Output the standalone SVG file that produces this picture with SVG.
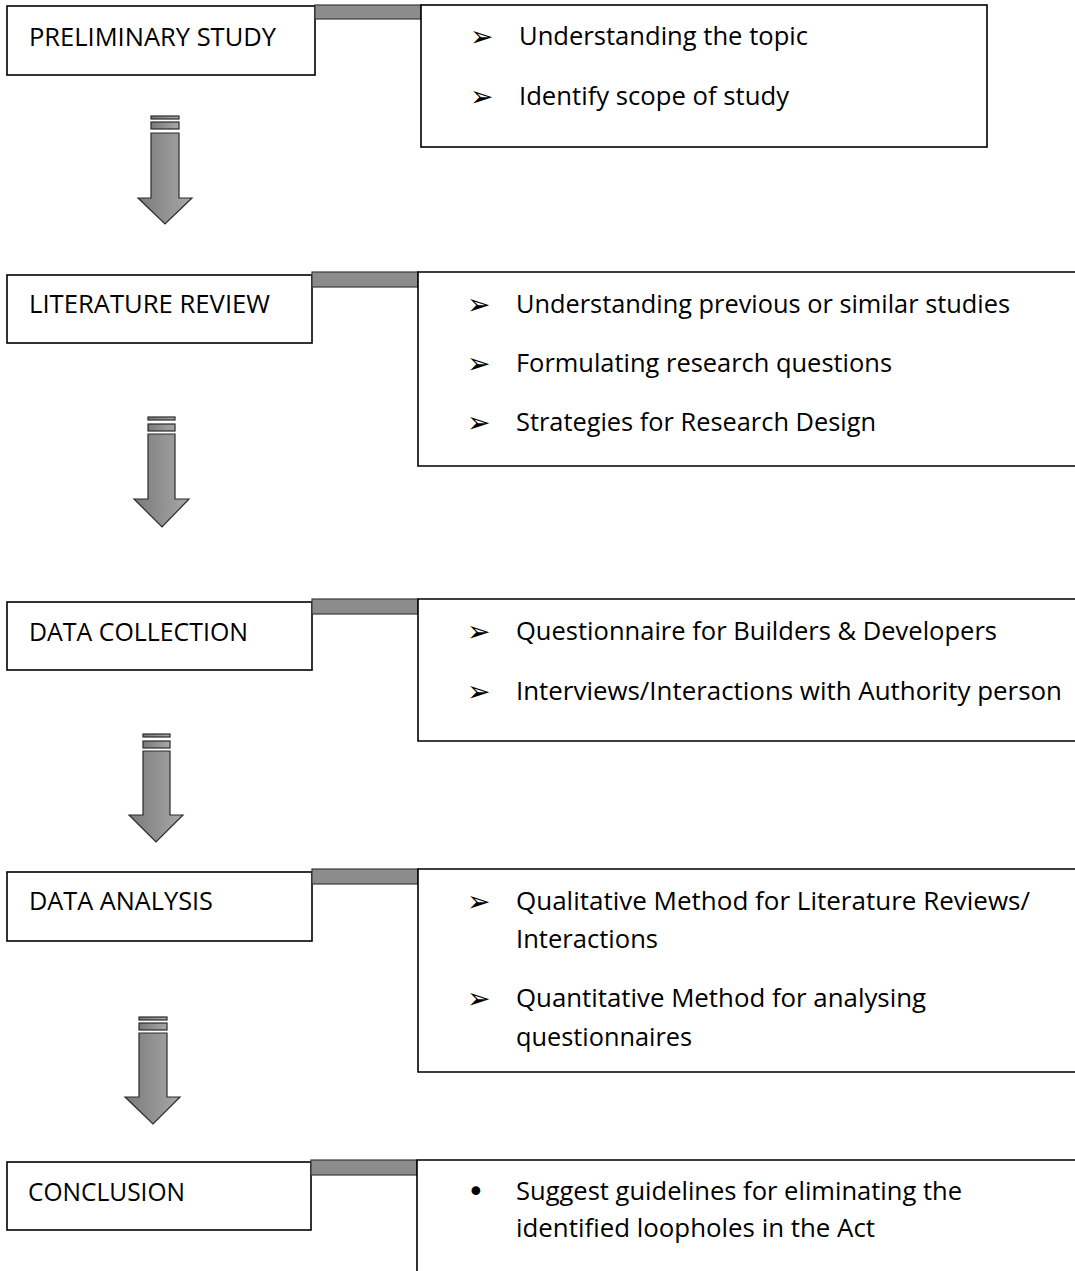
<svg xmlns="http://www.w3.org/2000/svg" width="1075" height="1271" viewBox="0 0 1075 1271">
<defs>
<linearGradient id="ag" x1="0" y1="0" x2="1" y2="0">
<stop offset="0" stop-color="#7a7a7a"/>
<stop offset="1" stop-color="#a8a8a8"/>
</linearGradient>
<style>
.box{fill:#fff;stroke:#000;stroke-width:1.6}
.bar{fill:#8c8c8c;stroke:#3a3a3a;stroke-width:1.2}
.ar{fill:url(#ag);stroke:#2a2a2a;stroke-width:1.2;stroke-linejoin:miter}
.lbl{font-family:"Open Sans","Liberation Sans",sans-serif;font-size:26px;fill:#000}
.it{font-family:"Open Sans","Liberation Sans",sans-serif;font-size:26px;fill:#000}
.bl{font-family:"DejaVu Sans",sans-serif;font-size:28px;fill:#000}
.dot{font-family:"DejaVu Sans",sans-serif;font-size:30px;fill:#000}
</style>
</defs>
<rect width="1075" height="1271" fill="#fff"/>

<g id="connectors">
<g id="arrow1">
<rect class="ar" x="151" y="116" width="28" height="3"/>
<rect class="ar" x="151" y="122" width="28" height="7"/>
<path class="ar" d="M151,133 H179 V198 H192 L165,224 L138,198 H151 Z"/>
</g>
<g id="arrow2">
<rect class="ar" x="148" y="417" width="27" height="3"/>
<rect class="ar" x="148" y="424" width="27" height="7"/>
<path class="ar" d="M148,434 H175 V499 H189 L162,527 L134,499 H148 Z"/>
</g>
<g id="arrow3">
<rect class="ar" x="143" y="734" width="27" height="3"/>
<rect class="ar" x="143" y="741" width="27" height="7"/>
<path class="ar" d="M143,751 H170 V815 H183 L156,842 L129,815 H143 Z"/>
</g>
<g id="arrow4">
<rect class="ar" x="139" y="1017" width="28" height="3"/>
<rect class="ar" x="139" y="1023" width="28" height="7"/>
<path class="ar" d="M139,1033 H167 V1097 H180 L153,1124 L125,1097 H139 Z"/>
</g>
</g>

<g id="preliminary">
<rect class="box" x="7" y="6" width="308" height="69"/>
<text class="lbl" x="29" y="46" textLength="247" lengthAdjust="spacingAndGlyphs">PRELIMINARY STUDY</text>
<rect class="bar" x="315" y="5" width="106" height="14"/>
<rect class="box" x="421" y="5" width="566" height="142"/>
<text class="bl" x="470" y="46">➢</text>
<text class="it" x="519" y="45" textLength="289" lengthAdjust="spacingAndGlyphs">Understanding the topic</text>
<text class="bl" x="470" y="106">➢</text>
<text class="it" x="519" y="105" textLength="270" lengthAdjust="spacingAndGlyphs">Identify scope of study</text>
</g>

<g id="literature">
<rect class="box" x="7" y="275" width="305" height="68"/>
<text class="lbl" x="29" y="313" textLength="241" lengthAdjust="spacingAndGlyphs">LITERATURE REVIEW</text>
<rect class="bar" x="312" y="272" width="106" height="15"/>
<path class="box" d="M1076,272 H418 V466 H1076" fill="none"/>
<text class="bl" x="467" y="314">➢</text>
<text class="it" x="516" y="313" textLength="494" lengthAdjust="spacingAndGlyphs">Understanding previous or similar studies</text>
<text class="bl" x="467" y="373">➢</text>
<text class="it" x="516" y="372" textLength="376" lengthAdjust="spacingAndGlyphs">Formulating research questions</text>
<text class="bl" x="467" y="432">➢</text>
<text class="it" x="516" y="431" textLength="360" lengthAdjust="spacingAndGlyphs">Strategies for Research Design</text>
</g>

<g id="collection">
<rect class="box" x="7" y="602" width="305" height="68"/>
<text class="lbl" x="29" y="641" textLength="219" lengthAdjust="spacingAndGlyphs">DATA COLLECTION</text>
<rect class="bar" x="312" y="599" width="106" height="15"/>
<path class="box" d="M1076,599 H418 V741 H1076"/>
<text class="bl" x="467" y="641">➢</text>
<text class="it" x="516" y="640" textLength="481" lengthAdjust="spacingAndGlyphs">Questionnaire for Builders &amp; Developers</text>
<text class="bl" x="467" y="701">➢</text>
<text class="it" x="516" y="700" textLength="546" lengthAdjust="spacingAndGlyphs">Interviews/Interactions with Authority person</text>
</g>

<g id="analysis">
<rect class="box" x="7" y="872" width="305" height="69"/>
<text class="lbl" x="29" y="910" textLength="184" lengthAdjust="spacingAndGlyphs">DATA ANALYSIS</text>
<rect class="bar" x="312" y="869" width="106" height="15"/>
<path class="box" d="M1076,869 H418 V1072 H1076"/>
<text class="bl" x="467" y="911">➢</text>
<text class="it" x="516" y="910" textLength="514" lengthAdjust="spacingAndGlyphs">Qualitative Method for Literature Reviews/</text>
<text class="it" x="516" y="948" textLength="142" lengthAdjust="spacingAndGlyphs">Interactions</text>
<text class="bl" x="467" y="1008">➢</text>
<text class="it" x="516" y="1007" textLength="410" lengthAdjust="spacingAndGlyphs">Quantitative Method for analysing</text>
<text class="it" x="516" y="1046" textLength="176" lengthAdjust="spacingAndGlyphs">questionnaires</text>
</g>

<g id="conclusion">
<rect class="box" x="7" y="1162" width="304" height="68"/>
<text class="lbl" x="28" y="1201" textLength="157" lengthAdjust="spacingAndGlyphs">CONCLUSION</text>
<rect class="bar" x="311" y="1160" width="106" height="15"/>
<path class="box" d="M1076,1160 H417 V1272"/>
<text class="dot" x="467" y="1202">•</text>
<text class="it" x="516" y="1200" textLength="446" lengthAdjust="spacingAndGlyphs">Suggest guidelines for eliminating the</text>
<text class="it" x="516" y="1237" textLength="359" lengthAdjust="spacingAndGlyphs">identified loopholes in the Act</text>
</g>
</svg>
